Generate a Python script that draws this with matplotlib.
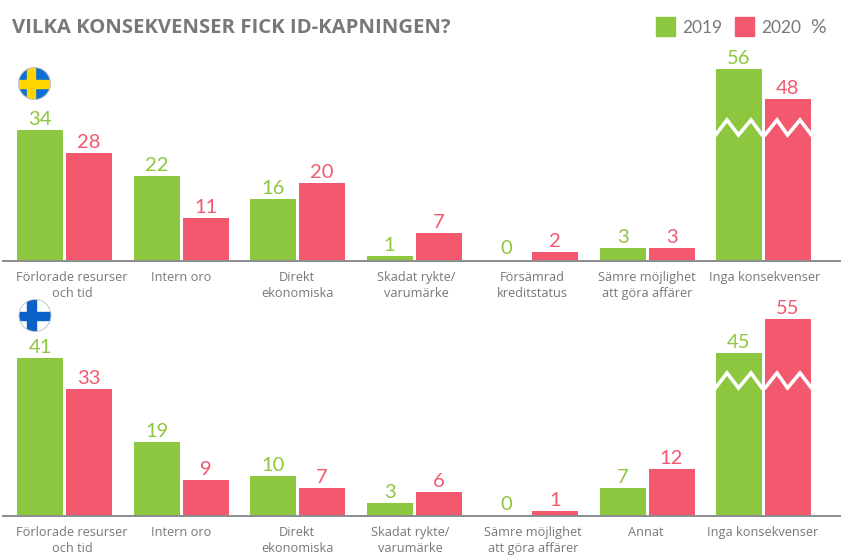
import matplotlib
matplotlib.use('Agg')
import matplotlib.pyplot as plt
from matplotlib.patches import Circle, Rectangle

W = 841
H = 555
green = '#8DC63F'
red = '#F2596F'
grey = '#77787B'
label_font = 'Open Sans'
num_font = 'Lato'

# Sverige
se_labels = ['Förlorade resurser\noch tid', 'Intern oro', 'Direkt\nekonomiska', 'Skadat rykte/\nvarumärke',
             'Försämrad\nkreditstatus', 'Sämre möjlighet\natt göra affärer', 'Inga konsekvenser']
se_2019 = [34, 22, 16, 1, 0, 3, 56]
se_2020 = [28, 11, 20, 7, 2, 3, 48]
se_cut_2019 = [0, 0, 0, 0, 0, 0, 6]  # how much the broken bars are shortened
se_cut_2020 = [0, 0, 0, 0, 0, 0, 6]
se_label_x = [72, 181, 297, 416, 532, 647, 765]

# Finland
fi_labels = ['Förlorade resurser\noch tid', 'Intern oro', 'Direkt\nekonomiska', 'Skadat rykte/\nvarumärke',
             'Sämre möjlighet\natt göra affärer', 'Annat', 'Inga konsekvenser']
fi_2019 = [41, 19, 10, 3, 0, 7, 45]
fi_2020 = [33, 9, 7, 6, 1, 12, 55]
fi_cut_2019 = [0, 0, 0, 0, 0, 0, 2.6]
fi_cut_2020 = [0, 0, 0, 0, 0, 0, 3.7]
fi_label_x = [72, 181, 297, 410, 533, 646, 763]

STEP = 116.5
X0 = 64.5
PX_PER_UNIT = 3.81


def panel(fig, base_y, top_y, v19, v20, cut19, cut20, labels, label_x, zig_y, label_y):
    # axes spans the full width, one x unit = one group
    ax = fig.add_axes([0, 1 - base_y / H, 1, (base_y - top_y) / H])
    ax.set_xlim(-X0 / STEP, (W - X0) / STEP)
    ax.set_ylim(0, (base_y - top_y) / PX_PER_UNIT)
    ax.axis('off')
    bw = 46 / STEP
    off = 24.5 / STEP
    for i in range(len(v19)):
        for v, cut, c, sign in [(v19[i], cut19[i], green, -1), (v20[i], cut20[i], red, 1)]:
            h = v - cut
            x = i + sign * off
            if v == 0:
                ax.bar(x, h, bw, color=c, edgecolor=c, linewidth=0.6, alpha=0.5)
            else:
                ax.bar(x, h, bw, color=c)
            ax.annotate(str(v), (x, h), xytext=(0, 5), textcoords='offset pixels', ha='center', va='baseline',
                        color=c, fontsize=14.5, family=num_font)
    # zigzag over the broken bars
    last = len(v19) - 1
    zx = [-48, -36.5, -25, -12.5, -1.5, 1.5, 13.5, 24, 36.5, 48]
    zy = [0, 1, 0, 1, 0, 0, 1, 0, 1, 0]
    ax.plot([last + a / STEP for a in zx], [(base_y - zig_y + 15 * b) / PX_PER_UNIT for b in zy],
            color='white', lw=2.6, solid_joinstyle='miter', zorder=5)
    # baseline
    fig.add_artist(plt.Line2D([3 / W, 1], [1 - (base_y + 1) / H] * 2, color='#808285', lw=1.3))
    for t, x in zip(labels, label_x):
        fig.text(x / W, 1 - label_y / H, t, ha='center', va='top', color=grey, fontsize=9.2,
                 family=label_font, linespacing=1.3)


def flag(fig, cx, cy, r, bg, cross):
    ax = fig.add_axes([(cx - r - 1) / W, 1 - (cy + r + 1) / H, (2 * r + 2) / W, (2 * r + 2) / H])
    ax.set_xlim(-r - 1, r + 1)
    ax.set_ylim(-r - 1, r + 1)
    ax.axis('off')
    clip = Circle((0, 0), r, transform=ax.transData)
    for p in [Rectangle((-r, -r), 2 * r, 2 * r, color=bg),
              Rectangle((-r, -4), 2 * r, 8, color=cross),
              Rectangle((-8, -r), 8.5, 2 * r, color=cross)]:
        ax.add_patch(p)
        p.set_clip_path(clip)
    ax.add_patch(Circle((0, 0), r, fill=False, ec='#BFC3C7', lw=0.7))


fig = plt.figure(figsize=(W / 100, H / 100), dpi=100, facecolor='white')

panel(fig, 259.5, 40, se_2019, se_2020, se_cut_2019, se_cut_2020, se_labels, se_label_x, 135, 271)
panel(fig, 514.5, 296, fi_2019, fi_2020, fi_cut_2019, fi_cut_2020, fi_labels, fi_label_x, 388, 526)

flag(fig, 34.5, 83.5, 16, '#0A6FD6', '#FFD400')
flag(fig, 35, 315.5, 16, '#FFFFFF', '#0A62C9')

fig.text(12 / W, 1 - 33 / H, 'VILKA KONSEKVENSER FICK ID-KAPNINGEN?', color=grey, fontsize=14.6, fontweight='bold',
         family=label_font, va='baseline')

# legend
fig.add_artist(Rectangle((656 / W, 1 - 36 / H), 19 / W, 19 / H, color=green, transform=fig.transFigure))
fig.add_artist(Rectangle((735 / W, 1 - 36 / H), 19 / W, 19 / H, color=red, transform=fig.transFigure))
fig.text(682 / W, 1 - 33 / H, '2019', color=grey, fontsize=12.5, family=num_font, va='baseline')
fig.text(761 / W, 1 - 33 / H, '2020', color=grey, fontsize=12.5, family=num_font, va='baseline')
fig.text(810 / W, 1 - 33 / H, '%', color=grey, fontsize=14, family=num_font, va='baseline')

fig.savefig('out.png', dpi=100)
